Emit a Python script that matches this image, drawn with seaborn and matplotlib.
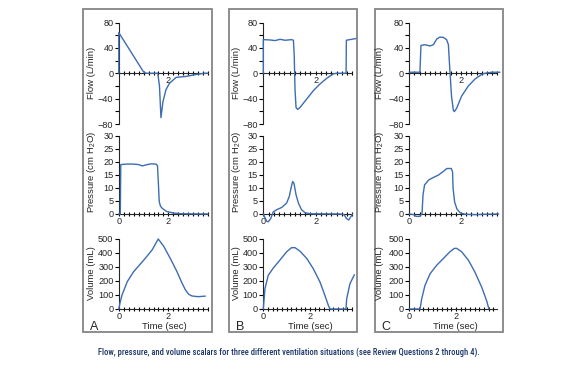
import numpy as np
import pandas as pd
import matplotlib
matplotlib.use("Agg")
import matplotlib.pyplot as plt
import seaborn as sns
from matplotlib.ticker import FixedLocator, NullFormatter
from matplotlib.patches import Rectangle
from matplotlib import font_manager as fm

# ---------------- data ----------------
# Panel A
a_flow_t = [0, 0, 0.5, 1.0, 1.1, 1.57, 1.64, 1.70, 1.78, 1.90, 2.04, 2.31, 2.71, 3.11, 3.45, 3.6]
a_flow_v = [0, 64, 33, 2, 0, 0, -20, -70, -45, -26, -16, -6.5, -5, -2, 0, 0]
a_pres_t = [0, 0.06, 0.08, 0.3, 0.6, 0.8, 0.95, 1.1, 1.3, 1.5, 1.56, 1.60, 1.63, 1.68, 1.75, 1.92, 2.19, 2.5, 3.6]
a_pres_v = [0, 0, 19, 19.2, 19.2, 19.0, 18.5, 18.9, 19.3, 19.2, 18.6, 11, 4.8, 3.0, 2.2, 1.0, 0.4, 0.1, 0]
a_vol_t = [0, 0.05, 0.13, 0.34, 0.6, 1.01, 1.34, 1.59, 1.81, 2.08, 2.35, 2.55, 2.69, 2.82, 2.95, 3.2, 3.49]
a_vol_v = [0, 45, 100, 195, 267, 350, 421, 500, 448, 360, 265, 185, 135, 105, 93, 88, 92]

# Panel B
b_flow_t = [0, 0, 0.25, 0.45, 0.64, 0.83, 1.08, 1.15, 1.18, 1.21, 1.25, 1.31, 1.40, 1.65, 1.91, 2.16, 2.42, 2.67, 2.8, 3.16, 3.17, 3.37, 3.57]
b_flow_v = [0, 53, 52.5, 51.5, 53.5, 52, 53, 52, 28, -25, -54, -57, -54, -41, -27.5, -17, -8, -1, 0, 0, 52, 53.5, 55]
b_pres_t = [0, 0.04, 0.13, 0.19, 0.28, 0.38, 0.51, 0.70, 0.89, 0.99, 1.07, 1.12, 1.17, 1.25, 1.34, 1.46, 1.59, 1.78, 2.93, 3.08, 3.18, 3.26, 3.35, 3.41]
b_pres_v = [0, -0.9, -2.8, -3.0, -1.8, 0.8, 1.65, 2.5, 4.2, 6.7, 10.5, 12.5, 11.8, 7.4, 4.2, 1.65, 0.5, 0.1, 0, -0.25, -1.8, -2.3, -0.9, 0]
b_vol_t = [0, 0.07, 0.21, 0.43, 0.71, 1.0, 1.21, 1.36, 1.57, 1.86, 2.14, 2.43, 2.64, 2.79, 2.86, 3.54, 3.57, 3.71, 3.90]
b_vol_v = [0, 144, 240, 293, 349, 409, 438, 438, 413, 361, 288, 192, 96, 24, 0, 0, 72, 180, 245]

# Panel C
c_flow_t = [0, 0.41, 0.45, 0.6, 0.8, 0.93, 1.06, 1.18, 1.31, 1.44, 1.51, 1.54, 1.58, 1.63, 1.70, 1.74, 1.83, 2.02, 2.28, 2.54, 2.79, 2.92, 3.18, 3.5]
c_flow_v = [1.6, 1.6, 43.8, 45, 43, 45, 54, 57, 56.6, 53, 45, 23, -3.8, -36, -58, -60.5, -55, -36, -20, -9, -2, 0, 1.6, 1.6]
c_pres_t = [0, 0.17, 0.26, 0.39, 0.49, 0.53, 0.59, 0.75, 0.94, 1.13, 1.33, 1.45, 1.62, 1.67, 1.69, 1.75, 1.84, 1.97, 2.16, 2.55, 2.93, 3.45]
c_pres_v = [0, -0.25, -0.9, -0.9, 0, 7.4, 11.2, 13.1, 14.1, 15, 16.5, 17.5, 17.5, 16.3, 9.9, 4.6, 1.9, 0.4, -0.1, -0.25, -0.1, 0]
c_vol_t = [0, 0.46, 0.53, 0.67, 0.89, 1.17, 1.46, 1.74, 1.93, 2.03, 2.24, 2.53, 2.81, 3.10, 3.31, 3.41]
c_vol_v = [0, 0, 72, 168, 252, 312, 361, 409, 433, 433, 409, 349, 264, 156, 60, 0]

panel_letters = ["A", "B", "C"]
flow_label = "Flow (L/min)"
pres_label = r"Pressure (cm H$_\mathregular{2}$O)"
vol_label = "Volume (mL)"
time_label = "Time (sec)"
caption = ("Flow, pressure, and volume scalars for three different ventilation "
           "situations (see Review Questions 2 through 4).")

flow_ticks = [-80, -40, 0, 40, 80]
pres_ticks = [0, 5, 10, 15, 20, 25, 30]
vol_ticks = [0, 100, 200, 300, 400, 500]

# ---------------- style ----------------
sns.set_style("ticks")
plt.rcParams['font.family'] = ['Liberation Sans', 'DejaVu Sans']
plt.rcParams['axes.linewidth'] = 0.8
LINE = "#3d6cb0"
W, H = 587, 387
fig = plt.figure(figsize=(W / 100, H / 100), dpi=100)


def fx(px):
    return px / W


def fy(py):
    return 1 - py / H


def make_ax(x0, k, xmax, ytop, ybot):
    return fig.add_axes([fx(x0), fy(ybot), k * xmax / W, (ybot - ytop) / H])


def style_ax(ax, xmax, tend, ylim, yticks, ybounds, yminor=None, show_x0=True):
    ax.set_xlim(0, xmax)
    ax.set_ylim(*ylim)
    for s in ("top", "right"):
        ax.spines[s].set_visible(False)
    ax.spines["bottom"].set_position(("data", 0))
    ax.spines["bottom"].set_bounds(0, tend)
    ax.spines["left"].set_bounds(*ybounds)
    ax.xaxis.set_major_locator(FixedLocator([0, 2]))
    ax.set_xticklabels(["0" if show_x0 else "", "2"])
    ax.xaxis.set_minor_locator(FixedLocator(list(np.arange(0, tend + 0.01, 0.2))))
    ax.xaxis.set_minor_formatter(NullFormatter())
    ax.yaxis.set_major_locator(FixedLocator(yticks))
    if yminor is not None:
        ax.yaxis.set_minor_locator(FixedLocator(yminor))
    ax.tick_params(axis="x", which="both", direction="inout", length=3.2, width=0.8,
                   labelsize=6.6, pad=0.5, color="black")
    ax.tick_params(axis="y", which="both", direction="out", length=2.8, width=0.8,
                   labelsize=6.6, pad=1.0, color="black")
    ax.set_xlabel("")
    ax.set_ylabel("")
    ax.patch.set_alpha(0)


def draw(ax, t, v):
    sns.lineplot(x=t, y=v, ax=ax, sort=False, estimator=None, color=LINE,
                 linewidth=1.0, zorder=3)
    for ln in ax.lines:
        ln.set_clip_on(False)


panels = [
    dict(x0=118.8, k=24.8, kv=24.8, xm=3.62, tend=3.6, xmv=3.62, tendv=3.6,
         box=(83.3, 211.7), yl=27.3, lx=93.7, tx=164.5,
         data=(a_flow_t, a_flow_v, a_pres_t, a_pres_v, a_vol_t, a_vol_v)),
    dict(x0=263.3, k=26.2, kv=23.35, xm=3.6, tend=3.4, xmv=3.94, tendv=3.8,
         box=(229.0, 357.0), yl=26.6, lx=239.7, tx=310.0,
         data=(b_flow_t, b_flow_v, b_pres_t, b_pres_v, b_vol_t, b_vol_v)),
    dict(x0=409.3, k=25.9, kv=23.35, xm=3.55, tend=3.4, xmv=3.8, tendv=3.76,
         box=(375.0, 502.7), yl=29.3, lx=385.8, tx=455.3,
         data=(c_flow_t, c_flow_v, c_pres_t, c_pres_v, c_vol_t, c_vol_v)),
]

FLOW_TOP, FLOW_BOT = 22.5, 124.0      # 80 and -80
PRES_TOP, PRES_BOT = 136.0, 214.0     # 30 and 0
VOL_TOP, VOL_BOT = 239.0, 309.0       # 500 and 0

fpu = (FLOW_BOT - FLOW_TOP) / 160
ppu = (PRES_BOT - PRES_TOP) / 30
vpu = (VOL_BOT - VOL_TOP) / 500

for i, p in enumerate(panels):
    ft, fv, pt, pv, vt, vv = p["data"]
    ax = make_ax(p["x0"], p["k"], p["xm"], FLOW_TOP - 4 * fpu, FLOW_BOT + 4 * fpu)
    draw(ax, ft, fv)
    style_ax(ax, p["xm"], p["tend"], (-84, 84), flow_ticks, (-80, 80),
             yminor=[-60, -20, 20, 60], show_x0=False)
    ax = make_ax(p["x0"], p["k"], p["xm"], PRES_TOP - 1 * ppu, PRES_BOT + 4 * ppu)
    draw(ax, pt, pv)
    style_ax(ax, p["xm"], p["tend"], (-4, 31), pres_ticks, (0, 30))
    ax = make_ax(p["x0"], p["kv"], p["xmv"], VOL_TOP - 15 * vpu, VOL_BOT + 15 * vpu)
    draw(ax, vt, vv)
    style_ax(ax, p["xmv"], p["tendv"], (-15, 515), vol_ticks, (0, 500))

    xl = p["x0"] - p["yl"]
    fig.text(fx(xl), fy(72.5), flow_label, rotation=90, ha="center", va="center", fontsize=6.8)
    fig.text(fx(xl), fy(171.7), pres_label, rotation=90, ha="center", va="center", fontsize=6.8)
    fig.text(fx(xl), fy(273.0), vol_label, rotation=90, ha="center", va="center", fontsize=6.8)
    fig.text(fx(p["lx"]), fy(326.5), panel_letters[i], ha="center", va="center", fontsize=9)
    fig.text(fx(p["tx"]), fy(326.7), time_label, ha="center", va="center", fontsize=6.8)
    bx0, bx1 = p["box"]
    fig.add_artist(Rectangle((fx(bx0), fy(332.0)), (bx1 - bx0) / W, (332.0 - 9.0) / H,
                             transform=fig.transFigure, fill=False,
                             edgecolor="#858585", linewidth=1.3))

# caption (condensed face if one is installed)
names = {f.name for f in fm.fontManager.ttflist}
cap_fam = None
for cand in ["Liberation Sans Narrow", "Roboto Condensed", "Open Sans Condensed",
             "DejaVu Sans Condensed", "Roboto"]:
    if cand in names:
        cap_fam = cand
        break
if cap_fam is None:
    cap_fam = "Liberation Sans"
cap = fig.text(fx(289.0), fy(352.7), caption, ha="center", va="center",
               color="#1a3668", fontsize=6, family=[cap_fam, "DejaVu Sans"],
               fontweight="medium")
fig.canvas.draw()
bb = cap.get_window_extent()
cap.set_fontsize(6 * 382.0 / bb.width)

fig.savefig("out.png", dpi=100)
